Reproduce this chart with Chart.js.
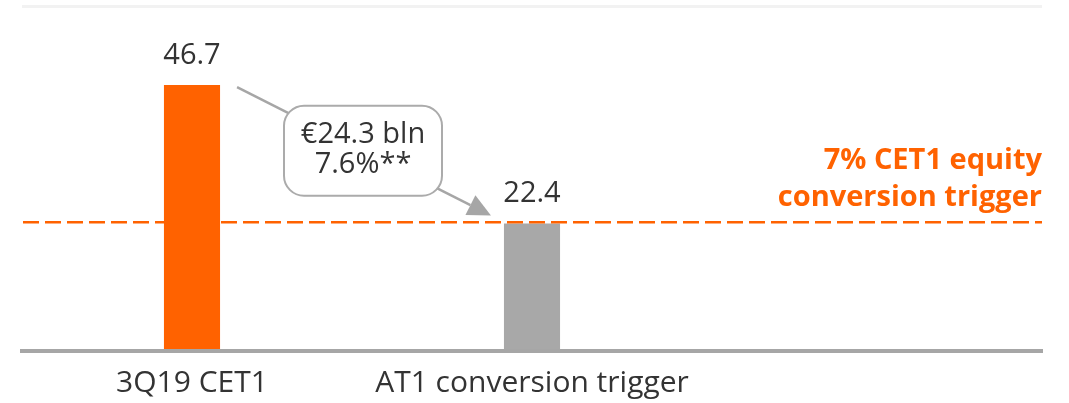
<!DOCTYPE html>
<html>
<head>
<meta charset="utf-8">
<script src="https://cdn.jsdelivr.net/npm/chart.js@4.4.1/dist/chart.umd.min.js"></script>
<style>
  html, body { margin: 0; padding: 0; background: #ffffff; }
  #wrap { width: 1069px; height: 403px; position: relative; }
</style>
</head>
<body>
<div id="wrap"><canvas id="c"></canvas></div>
<script>
// ---- data ----
const categories = ['3Q19 CET1', 'AT1 conversion trigger', ''];
const values = [46.7, 22.4, null];
const barColors = ['#FF6200', '#A8A8A8', '#A8A8A8'];
const triggerLevel = 22.6;
const triggerLabel = ['7% CET1 equity', 'conversion trigger'];
const boxLines = ['€24.3 bln', '7.6%**'];
const axisMax = 60.5;

// ---- styles ----
const ORANGE = '#FF6200';
const GREY = '#A6A6A6';
const TEXT = '#333333';
const FONT = "'Open Sans', 'Noto Sans', sans-serif";

const annotations = {
  id: 'annotations',
  afterDatasetsDraw(chart) {
    const { ctx, chartArea, scales } = chart;
    const x = scales.x, y = scales.y;
    const meta = chart.getDatasetMeta(0);
    ctx.save();

    // dashed trigger line
    const ty = y.getPixelForValue(triggerLevel);
    ctx.setLineDash([16, 6]);
    ctx.strokeStyle = ORANGE;
    ctx.lineWidth = 2.5;
    ctx.beginPath();
    ctx.moveTo(chartArea.left + 1, ty);
    ctx.lineTo(chartArea.right, ty);
    ctx.stroke();
    ctx.setLineDash([]);

    // trigger label
    ctx.fillStyle = ORANGE;
    ctx.font = "bold 29px " + FONT;
    ctx.textAlign = 'right';
    ctx.textBaseline = 'alphabetic';
    ctx.fillText(triggerLabel[0], chartArea.right, ty - 53);
    ctx.fillText(triggerLabel[1], chartArea.right, ty - 16);

    // value labels
    ctx.fillStyle = TEXT;
    ctx.font = "29px " + FONT;
    ctx.textAlign = 'center';
    meta.data.forEach((bar, i) => {
      if (values[i] == null) return;
      ctx.fillText(values[i].toFixed(1), bar.x, bar.y - 21);
    });

    // connector arrow from bar 0 to bar 1
    const b0 = meta.data[0], b1 = meta.data[1];
    const sx = b0.x + b0.width / 2 + 17, sy = b0.y + 2;
    const tx = b1.x - b1.width / 2 - 13, tyy = b1.y - 8;
    const ang = Math.atan2(tyy - sy, tx - sx);
    const headLen = 23, headHalf = 11;
    const bx = tx - headLen * Math.cos(ang), by = tyy - headLen * Math.sin(ang);
    ctx.strokeStyle = GREY;
    ctx.lineWidth = 2.5;
    ctx.beginPath();
    ctx.moveTo(sx, sy);
    ctx.lineTo(bx, by);
    ctx.stroke();
    ctx.fillStyle = GREY;
    ctx.beginPath();
    ctx.moveTo(tx, tyy);
    ctx.lineTo(bx + headHalf * Math.sin(ang), by - headHalf * Math.cos(ang));
    ctx.lineTo(bx - headHalf * Math.sin(ang), by + headHalf * Math.cos(ang));
    ctx.closePath();
    ctx.fill();

    // callout box (centred on the connector, midway between the bars)
    const cx = (b0.x + b1.x) / 2 + 1;
    const cy = sy + (cx - sx) * Math.tan(ang);
    const w = 158, h = 90;
    ctx.beginPath();
    ctx.roundRect(cx - w / 2, cy - h / 2, w, h, 20);
    ctx.fillStyle = '#ffffff';
    ctx.fill();
    ctx.strokeStyle = '#ABABAB';
    ctx.lineWidth = 2;
    ctx.stroke();
    ctx.fillStyle = TEXT;
    ctx.font = "29px " + FONT;
    ctx.textAlign = 'center';
    ctx.fillText(boxLines[0], cx, cy - 8);
    ctx.fillText(boxLines[1], cx, cy + 22);

    ctx.restore();
  }
};

new Chart(document.getElementById('c'), {
  type: 'bar',
  data: {
    labels: categories,
    datasets: [{
      data: values,
      backgroundColor: barColors,
      borderWidth: 0,
      barPercentage: 0.165,
      categoryPercentage: 1.0
    }]
  },
  options: {
    responsive: true,
    maintainAspectRatio: false,
    animation: false,
    events: [],
    layout: { padding: { left: 22, right: 27, top: 6.5, bottom: 0 } },
    plugins: { legend: { display: false }, tooltip: { enabled: false } },
    scales: {
      x: {
        grid: { display: false, drawTicks: false },
        border: { display: true, color: GREY, width: 4, z: 1 },
        ticks: {
          color: TEXT,
          font: { family: FONT, size: 30 },
          padding: 14,
          maxRotation: 0,
          autoSkip: false
        },
        afterFit(scale) { scale.height = 52; }
      },
      y: {
        min: 0,
        max: axisMax,
        afterBuildTicks(scale) { scale.ticks = [{ value: 0 }, { value: axisMax }]; },
        ticks: { display: false },
        grid: {
          drawTicks: false,
          lineWidth: 3,
          color: (c) => (c.tick && c.tick.value === axisMax ? '#F2F2F2' : 'rgba(0,0,0,0)')
        },
        border: { display: false },
        afterFit(scale) { scale.width = 0; }
      }
    }
  },
  plugins: [annotations]
});
</script>
</body>
</html>
